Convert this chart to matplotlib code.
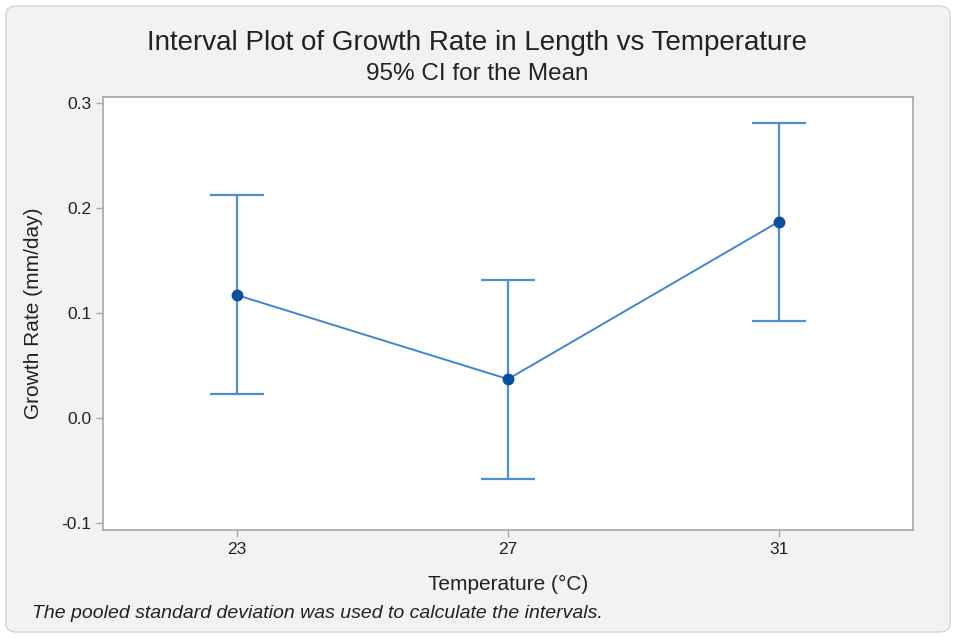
import matplotlib
matplotlib.use("Agg")
import matplotlib.pyplot as plt
from matplotlib.patches import FancyBboxPatch

temperatures = [23, 27, 31]
means = [0.117, 0.037, 0.187]
lower = [0.023, -0.058, 0.092]
upper = [0.212, 0.131, 0.281]
yticks = [-0.1, 0.0, 0.1, 0.2, 0.3]
ytick_labels = ["-0.1", "0.0", "0.1", "0.2", "0.3"]

plt.rcParams['font.family'] = ['Liberation Sans', 'DejaVu Sans']

W, H = 954, 638
fig = plt.figure(figsize=(W / 100, H / 100), dpi=100)
fig.patch.set_facecolor('white')

panel = FancyBboxPatch((6 / W, 6 / H), 944 / W, 626 / H,
                       boxstyle="round,pad=0,rounding_size=0.012",
                       transform=fig.transFigure, facecolor='#f2f2f2',
                       edgecolor='#d6d6d6', linewidth=1.0, zorder=-10)
fig.patches.append(panel)

ax = fig.add_axes([103 / W, 1 - 530 / H, 810 / W, 433 / H])
ax.set_zorder(1)
ax.set_facecolor('white')

err_lo = [m - l for m, l in zip(means, lower)]
err_hi = [u - m for m, u in zip(means, upper)]
ax.errorbar(temperatures, means, yerr=[err_lo, err_hi], fmt='none',
            ecolor='#4f8fd0', elinewidth=1.6, capsize=19.5, capthick=1.6, zorder=2)
ax.plot(temperatures, means, color='#3f86d0', linewidth=1.4, zorder=3)
ax.plot(temperatures, means, 'o', color='#0a4fa0', markersize=7.5, zorder=4)

ax.set_xlim(21.02, 32.98)
ax.set_ylim(-0.1067, 0.3057)
ax.set_xticks(temperatures)
ax.set_xticklabels([str(t) for t in temperatures])
ax.set_yticks(yticks)
ax.set_yticklabels(ytick_labels)

for s in ax.spines.values():
    s.set_color('#a8a8a8')
    s.set_linewidth(1.2)
ax.tick_params(axis='both', colors='#a8a8a8', labelcolor='#222222',
               labelsize=12.5, length=5, width=1)

ax.set_xlabel("Temperature (°C)", fontsize=15, color='#222222', labelpad=13)
ax.set_ylabel("Growth Rate (mm/day)", fontsize=15, color='#222222', labelpad=13)

fig.text(0.5, 1 - 43 / H, "Interval Plot of Growth Rate in Length vs Temperature",
         ha='center', va='center', fontsize=20, color='#222222')
fig.text(0.5, 1 - 74 / H, "95% CI for the Mean",
         ha='center', va='center', fontsize=17.5, color='#222222')
fig.text(32 / W, 1 - 613 / H,
         "The pooled standard deviation was used to calculate the intervals.",
         ha='left', va='center', fontsize=14, style='italic', color='#222222')

fig.savefig("out.png", dpi=100, facecolor=fig.get_facecolor())
